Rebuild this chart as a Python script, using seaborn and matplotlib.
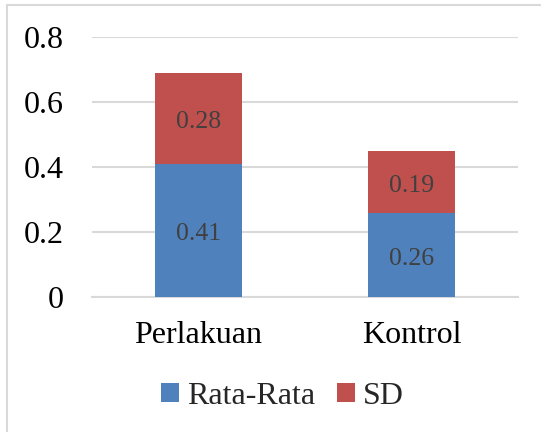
import matplotlib
matplotlib.use("Agg")
import matplotlib.pyplot as plt
import matplotlib.transforms as mtransforms
import seaborn as sns
import pandas as pd
from matplotlib.lines import Line2D
from matplotlib.patches import Patch

# chart values
categories = ["Perlakuan", "Kontrol"]
rata_rata = [0.41, 0.26]
sd = [0.28, 0.19]
series_names = ["Rata-Rata", "SD"]
y_ticks = [0, 0.2, 0.4, 0.6, 0.8]
y_tick_labels = ["0", "0.2", "0.4", "0.6", "0.8"]

blue = "#4F81BD"
red = "#C0504D"
grid_col = "#D9D9D9"

sns.set_theme(style="white")
plt.rcParams["font.family"] = ["Liberation Serif", "DejaVu Serif"]

df = pd.DataFrame({"kategori": categories, "rata": rata_rata, "sd": sd})
df["total"] = df["rata"] + df["sd"]

fig = plt.figure(figsize=(5.41, 4.32), dpi=100)
ax = fig.add_axes([0.170, 0.3125, 0.7875, 0.6015])

# stacked: draw total first, then the bottom part over it
sns.barplot(data=df, x="kategori", y="total", color=red, width=0.404,
            saturation=1, linewidth=0, edgecolor="none", ax=ax, zorder=3)
sns.barplot(data=df, x="kategori", y="rata", color=blue, width=0.404,
            saturation=1, linewidth=0, edgecolor="none", ax=ax, zorder=4)

# data labels sit a few pixels below the segment centre, like in Excel
lbl_tr = mtransforms.offset_copy(ax.transData, fig=fig, y=-4, units="dots")
for i in range(len(categories)):
    ax.text(i, rata_rata[i] / 2, f"{rata_rata[i]:.2f}", ha="center", va="center",
            fontsize=18.5, color="#404040", zorder=5, transform=lbl_tr)
    ax.text(i, rata_rata[i] + sd[i] / 2, f"{sd[i]:.2f}", ha="center", va="center",
            fontsize=18.5, color="#404040", zorder=5, transform=lbl_tr)

ax.set_ylim(0, 0.8)
ax.set_xlim(-0.5, 1.5)
ax.set_yticks(y_ticks)
ax.set_yticklabels(y_tick_labels)
ax.yaxis.grid(True, color=grid_col, linewidth=1.5, zorder=0)
ax.set_axisbelow(True)
ax.tick_params(axis="y", length=0, pad=20, labelsize=23, labelcolor="black")
ax.tick_params(axis="x", length=0, pad=17, labelsize=23, labelcolor="black")
ax.set_xlabel("")
ax.set_ylabel("")
for s in ["top", "right", "left"]:
    ax.spines[s].set_visible(False)
ax.spines["bottom"].set_color(grid_col)
ax.spines["bottom"].set_linewidth(1.5)

handles = [Patch(facecolor=blue, edgecolor="none"), Patch(facecolor=red, edgecolor="none")]
fig.legend(handles, series_names, loc="center", bbox_to_anchor=(0.522, 0.082),
           ncol=2, frameon=False, fontsize=23, handlelength=0.55, handleheight=0.55,
           handletextpad=0.25, columnspacing=0.7)

# outer chart border (top and left visible in crop)
fig.add_artist(Line2D([7 / 541, 7 / 541], [0, 1 - 5 / 432], transform=fig.transFigure,
                      color=grid_col, linewidth=1.5))
fig.add_artist(Line2D([7 / 541, 1], [1 - 5 / 432, 1 - 5 / 432], transform=fig.transFigure,
                      color=grid_col, linewidth=1.5))

fig.savefig("out.png", dpi=100)
